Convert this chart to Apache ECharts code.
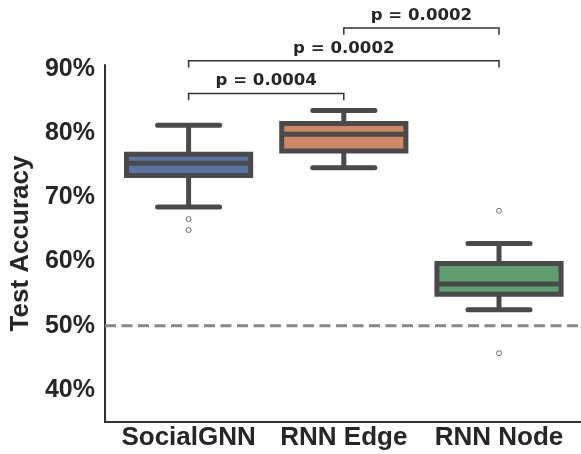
<!DOCTYPE html>
<html><head><meta charset="utf-8">
<script src="https://cdn.jsdelivr.net/npm/echarts@6/dist/echarts.min.js"></script>
<style>html,body{margin:0;padding:0;background:#fff}#c{width:581px;height:454px}</style>
</head><body><div id="c"></div><script>
// ---- data ----
const categories = ['SocialGNN', 'RNN Edge', 'RNN Node'];
const whiskerLow  = [68.5, 74.6, 52.5];
const q1          = [73.4, 77.2, 54.9];
const median      = [75.3, 79.8, 56.5];
const q3          = [76.7, 81.5, 59.7];
const whiskerHigh = [81.2, 83.5, 62.8];
const outlierCat  = [0, 0, 2, 2];
const outlierVal  = [66.6, 64.9, 67.9, 45.7];
const chanceLevel = 50;
const yTicks = [40, 50, 60, 70, 80, 90];
const compFrom  = [0, 0, 1];
const compTo    = [1, 2, 2];
const compLevel = [85.1, 90.2, 95.3];
const compText  = ['p = 0.0004', 'p = 0.0002', 'p = 0.0002'];
const bracketHeight = 1.05;

// ---- styles ----
const boxColors = ['#5875a4', '#cc8963', '#5f9e6e'];
const lineGray = '#4a4a4a';
const textColor = '#262626';
const FONT = 'Liberation Sans';
const Y_MIN = 35, Y_MAX = 90.6;

const chart = echarts.init(document.getElementById('c'), null, {renderer: 'canvas'});

const boxData = categories.map((c, i) => [i, whiskerLow[i], q1[i], median[i], q3[i], whiskerHigh[i]]);
const outlierData = outlierCat.map((c, i) => [c, outlierVal[i]]);
const compData = compFrom.map((f, i) => [f, compTo[i], compLevel[i], compLevel[i] + bracketHeight]);

function renderBox(params, api) {
  const idx = api.value(0);
  const band = api.size([1, 0])[0];
  const half = band * 0.4, capHalf = band * 0.2;
  const x = api.coord([idx, 0])[0];
  const yLow = api.coord([idx, api.value(1)])[1];
  const yQ1 = api.coord([idx, api.value(2)])[1];
  const yMed = api.coord([idx, api.value(3)])[1];
  const yQ3 = api.coord([idx, api.value(4)])[1];
  const yHigh = api.coord([idx, api.value(5)])[1];
  const ls = {stroke: lineGray, lineWidth: 5, lineCap: 'round'};
  return {
    type: 'group',
    children: [
      {type: 'line', shape: {x1: x, y1: yQ3, x2: x, y2: yHigh}, style: Object.assign({}, ls, {lineCap: 'butt'})},
      {type: 'line', shape: {x1: x, y1: yQ1, x2: x, y2: yLow}, style: Object.assign({}, ls, {lineCap: 'butt'})},
      {type: 'line', shape: {x1: x - capHalf, y1: yHigh, x2: x + capHalf, y2: yHigh}, style: ls},
      {type: 'line', shape: {x1: x - capHalf, y1: yLow, x2: x + capHalf, y2: yLow}, style: ls},
      {type: 'rect', shape: {x: x - half, y: yQ3, width: 2 * half, height: yQ1 - yQ3},
        style: {fill: boxColors[idx], stroke: lineGray, lineWidth: 5}},
      {type: 'line', shape: {x1: x - half, y1: yMed, x2: x + half, y2: yMed}, style: Object.assign({}, ls, {lineCap: 'butt'})}
    ]
  };
}

function renderBracket(params, api) {
  const i0 = api.value(0), i1 = api.value(1);
  const p0b = api.coord([i0, api.value(2)]);
  const p0t = api.coord([i0, api.value(3)]);
  const p1t = api.coord([i1, api.value(3)]);
  const p1b = api.coord([i1, api.value(2)]);
  return {
    type: 'group',
    children: [
      {type: 'polyline', shape: {points: [p0b, p0t, p1t, p1b]},
        style: {stroke: '#333', lineWidth: 1.5, fill: null}},
      {type: 'text', style: {
        text: compText[params.dataIndex], x: (p0t[0] + p1t[0]) / 2, y: p0t[1] - 4,
        align: 'center', verticalAlign: 'bottom',
        font: 'bold 16.6px "DejaVu Sans"', fill: textColor}}
    ]
  };
}

const option = {
  animation: false,
  backgroundColor: '#fff',
  grid: [
    {left: 105, right: 0, top: 65, bottom: 32, containLabel: false},
    {left: 111, right: 4.4, top: 65, bottom: 32, containLabel: false}
  ],
  xAxis: [
    {type: 'value', gridIndex: 0, min: 0, max: 1,
      axisLine: {show: true, lineStyle: {color: '#333', width: 2}},
      axisTick: {show: false}, axisLabel: {show: false}, splitLine: {show: false}},
    {type: 'category', gridIndex: 1, data: categories, boundaryGap: true,
      axisLine: {show: false}, axisTick: {show: false}, splitLine: {show: false},
      axisLabel: {margin: 3, color: textColor, fontFamily: FONT, fontWeight: 'bold', fontSize: 26, interval: 0}}
  ],
  yAxis: [
    {type: 'value', gridIndex: 0, min: Y_MIN, max: Y_MAX, splitNumber: 5,
      name: 'Test Accuracy', nameLocation: 'middle', nameGap: 67,
      nameTextStyle: {color: textColor, fontFamily: FONT, fontWeight: 'bold', fontSize: 26},
      axisLine: {show: true, lineStyle: {color: '#333', width: 2}},
      axisTick: {show: false}, splitLine: {show: false},
      axisLabel: {margin: 10, color: textColor, fontFamily: FONT, fontWeight: 'bold', fontSize: 25,
        formatter: v => yTicks.some(t => Math.abs(t - v) < 1e-6) ? Math.round(v) + '%' : ''}},
    {type: 'value', gridIndex: 1, min: Y_MIN, max: Y_MAX, show: false}
  ],
  series: [
    {type: 'line', xAxisIndex: 0, yAxisIndex: 0, symbol: 'none', silent: true,
      data: [[0, chanceLevel], [1, chanceLevel]],
      lineStyle: {color: '#888', width: 3, type: [11, 5.5]}, z: 1},
    {type: 'custom', xAxisIndex: 1, yAxisIndex: 1, renderItem: renderBox, data: boxData,
      encode: {x: 0, y: [1, 2, 3, 4, 5]}, z: 3},
    {type: 'scatter', xAxisIndex: 1, yAxisIndex: 1, data: outlierData, symbol: 'circle', symbolSize: 5,
      itemStyle: {color: '#fff', borderColor: lineGray, borderWidth: 1}, z: 4},
    {type: 'custom', xAxisIndex: 1, yAxisIndex: 1, renderItem: renderBracket, data: compData,
      clip: false, encode: {x: [0, 1], y: [2, 3]}, z: 5}
  ]
};
chart.setOption(option);
</script></body></html>
